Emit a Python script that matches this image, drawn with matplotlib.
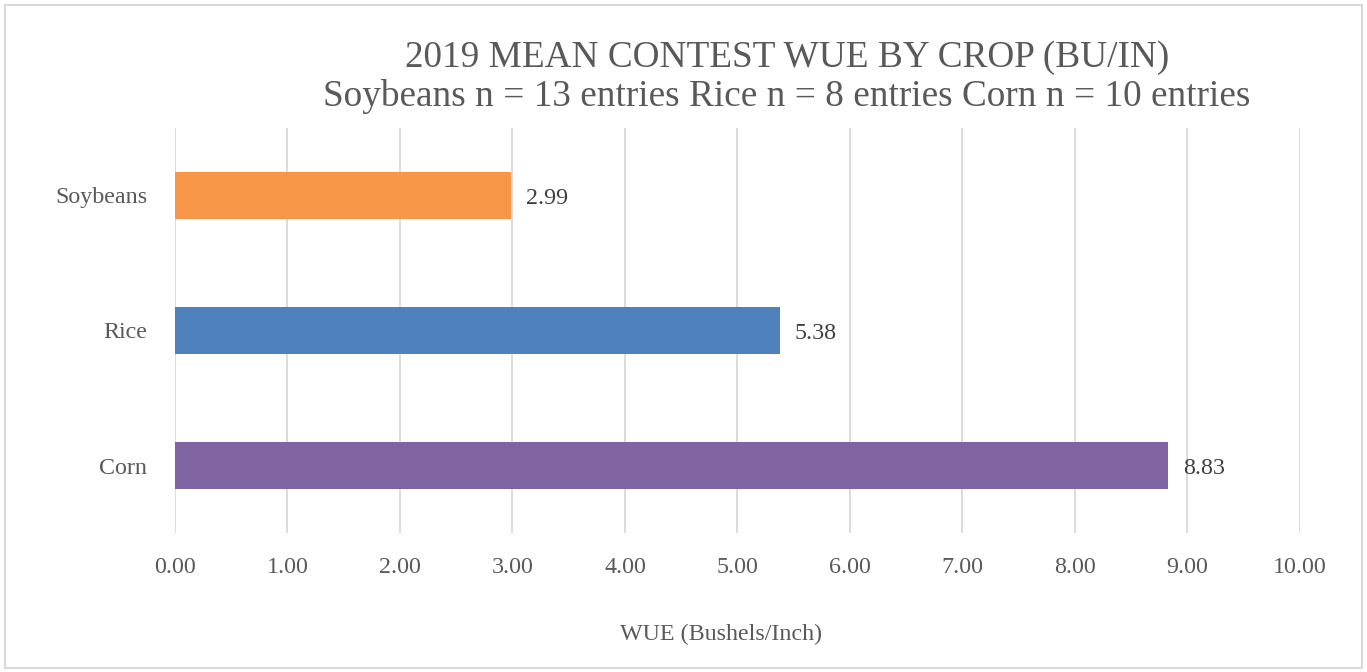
import matplotlib.pyplot as plt
from matplotlib.patches import Rectangle

crops = ['Soybeans', 'Rice', 'Corn']
wue = [2.99, 5.38, 8.83]
colors = ['#F79646', '#4F81BD', '#8064A2']
ticks = [0, 1, 2, 3, 4, 5, 6, 7, 8, 9, 10]

plt.rcParams['font.family'] = ['Liberation Serif', 'DejaVu Serif']
grey = '#595959'

fig = plt.figure(figsize=(13.67, 6.72), dpi=100)
ax = fig.add_axes([175 / 1367, 1 - 533 / 672, 1125 / 1367, 405 / 672])

pos = list(range(len(crops)))
ax.barh(pos, wue, height=0.35, color=colors, zorder=3)
for p, v in zip(pos, wue):
    ax.text(v + 0.13, p + 0.02, f'{v:.2f}', va='center', ha='left', fontsize=17.3, color='#404040')

ax.set_xlim(0, 10)
ax.set_ylim(len(crops) - 0.5, -0.5)
ax.set_yticks(pos, crops)
ax.set_xticks(ticks, [f'{t:.2f}' for t in ticks])
ax.tick_params(axis='both', length=0, labelsize=17.3, labelcolor=grey)
ax.tick_params(axis='x', pad=17)
ax.tick_params(axis='y', pad=20)
ax.grid(axis='x', color='#d9d9d9', linewidth=1.3, zorder=0)
for s in ax.spines.values():
    s.set_visible(False)

ax.set_xlabel('WUE (Bushels/Inch)', fontsize=17.3, color=grey, labelpad=33)
ax.xaxis.label.set_x(0.485)
fig.text(787 / 1367, 1 - 77 / 672,
         '2019 MEAN CONTEST WUE BY CROP (BU/IN)\nSoybeans n = 13 entries Rice n = 8 entries Corn n = 10 entries',
         ha='center', va='center', fontsize=26.8, color=grey, linespacing=1.15)

fig.patches.append(Rectangle((5 / 1367, 4 / 672), 1 - 10 / 1367, 1 - 9 / 672,
                             transform=fig.transFigure, fill=False, edgecolor='#d9d9d9', linewidth=1.5))

fig.savefig('out.png', dpi=100)
